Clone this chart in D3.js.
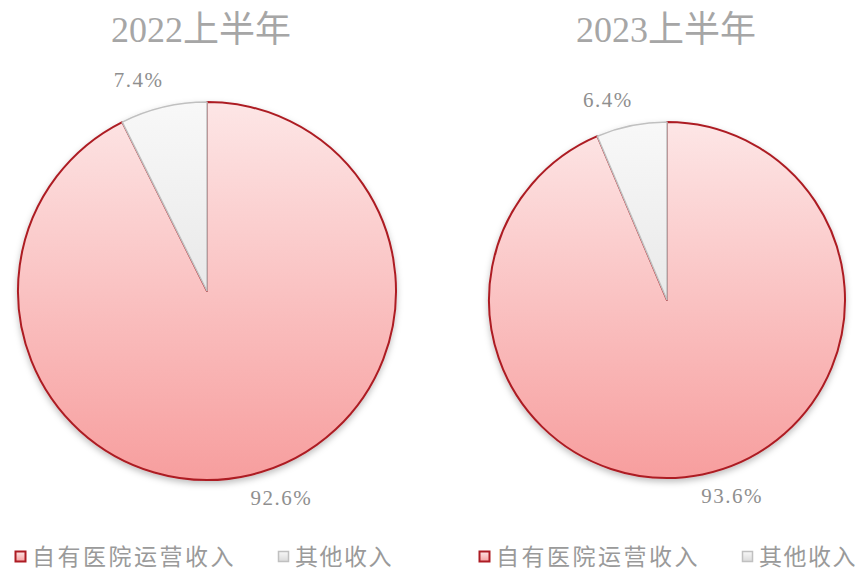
<!DOCTYPE html>
<html><head><meta charset="utf-8">
<script src="https://cdn.jsdelivr.net/npm/d3@7"></script>
<style>
html,body{margin:0;padding:0;background:#fff;}
svg{display:block;}
</style></head>
<body>
<svg id="chart" width="866" height="572"></svg>
<script>
const categories = ["自有医院运营收入", "其他收入"];
const titles = ["2022上半年", "2023上半年"];
const values2022 = [92.6, 7.4];
const values2023 = [93.6, 6.4];
const seriesValues = [values2022, values2023];
const labelFormat = d => d.toFixed(1) + "%";

const svg = d3.select("#chart");
const defs = svg.append("defs");

const layout = [
  {cx: 207, cy: 291, r: 189, tx: 201, lx: [15, 278]},
  {cx: 667, cy: 300, r: 178, tx: 666, lx: [479, 742]}
];

const fills = [
  {top: "#fde6e6", bottom: "#f79e9e", stroke: "#ad1c24"},
  {top: "#f8f8f8", bottom: "#dadada", stroke: "#c0c0c0"}
];

const sh = defs.append("filter").attr("id", "shadow")
  .attr("x", "-10%").attr("y", "-10%").attr("width", "120%").attr("height", "125%");
sh.append("feDropShadow").attr("dx", 0).attr("dy", 3).attr("stdDeviation", 3)
  .attr("flood-color", "#000").attr("flood-opacity", 0.25);

fills.forEach((f, i) => {
  const g = defs.append("linearGradient").attr("id", "lg" + i)
    .attr("x1", 0).attr("y1", 0).attr("x2", 0).attr("y2", 1);
  g.append("stop").attr("offset", "0%").attr("stop-color", f.top);
  g.append("stop").attr("offset", "100%").attr("stop-color", f.bottom);
});

const pie = d3.pie().sort(null).value(d => d);

layout.forEach((L, pi) => {
  const data = seriesValues[pi];
  fills.forEach((f, i) => {
    const gg = defs.append("linearGradient").attr("id", `g${pi}_${i}`)
      .attr("gradientUnits", "userSpaceOnUse")
      .attr("x1", 0).attr("x2", 0)
      .attr("y1", -L.r).attr("y2", L.r);
    gg.append("stop").attr("offset", "0%").attr("stop-color", f.top);
    gg.append("stop").attr("offset", "100%").attr("stop-color", f.bottom);
  });

  const arc = d3.arc().innerRadius(0).outerRadius(L.r);
  const arcs = pie(data);

  const gs = svg.append("g").attr("filter", "url(#shadow)");
  gs.selectAll("path").data(arcs).join("path")
    .attr("transform", `translate(${L.cx},${L.cy})`)
    .attr("d", arc)
    .attr("fill", (d, i) => `url(#g${pi}_${i})`)
    .attr("stroke", (d, i) => fills[i].stroke)
    .attr("stroke-width", (d, i) => i === 0 ? 2 : 1.5)
    .attr("stroke-linejoin", "round");

  const lr = L.r * 1.135;
  arcs.forEach((d) => {
    const a = (d.startAngle + d.endAngle) / 2;
    const x = L.cx + Math.sin(a) * lr;
    const y = L.cy - Math.cos(a) * lr;
    svg.append("text")
      .attr("x", Math.sin(a) < 0 ? x + 6 : x - 6)
      .attr("y", y)
      .attr("text-anchor", Math.sin(a) < 0 ? "end" : "start")
      .attr("dominant-baseline", "middle")
      .attr("font-family", "'Liberation Serif', 'DejaVu Serif', serif")
      .attr("font-size", 21)
      .attr("letter-spacing", 1.5)
      .attr("fill", "#8f8f8f")
      .text(labelFormat(d.data));
  });

  svg.append("text")
    .attr("x", L.tx).attr("y", 42)
    .attr("text-anchor", "middle")
    .attr("font-family", "'Liberation Serif', 'Noto Sans CJK SC', serif")
    .attr("font-size", 36)
    .attr("fill", "#a6a6a6")
    .text(titles[pi]);

  categories.forEach((c, i) => {
    const x = L.lx[i];
    svg.append("rect")
      .attr("x", x + 0.5).attr("y", 551.5).attr("width", 10).attr("height", 10)
      .attr("fill", `url(#lg${i})`)
      .attr("stroke", fills[i].stroke)
      .attr("stroke-width", i === 0 ? 2 : 1.5);
    svg.append("text")
      .attr("x", x + 17).attr("y", 555)
      .attr("dominant-baseline", "central")
      .attr("font-family", "'Noto Sans CJK SC', sans-serif")
      .attr("font-size", 23)
      .attr("letter-spacing", i === 0 ? 2.5 : 1.5)
      .attr("fill", "#9a9a9a")
      .text(c);
  });
});
</script>
</body></html>
